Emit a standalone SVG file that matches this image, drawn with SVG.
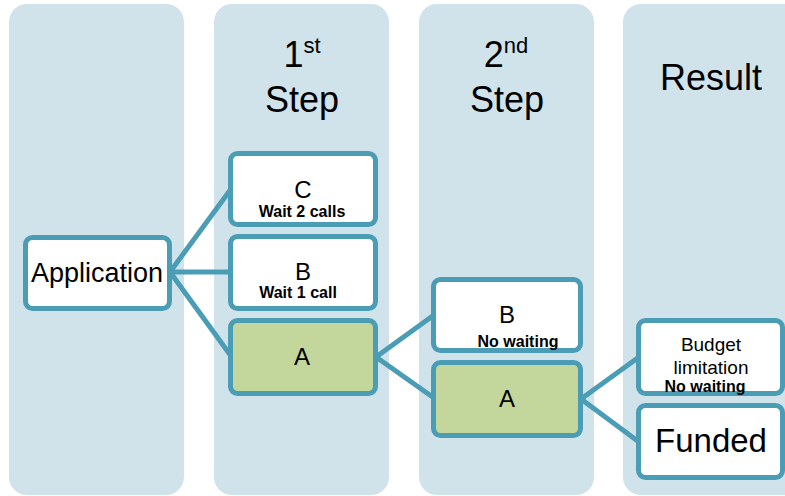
<svg xmlns="http://www.w3.org/2000/svg" width="785" height="496" viewBox="0 0 785 496">
<style>
.col{fill:#d0e3eb}
.box{fill:#ffffff;stroke:#4a9db5;stroke-width:5}
.grn{fill:#c3d69b}
.t{font-family:"Liberation Sans",Arial,sans-serif;fill:#000;text-anchor:middle}
.b{font-weight:bold;font-size:16px}
.conn{stroke:#4a9db5;stroke-width:5;fill:none}
</style>
<rect width="785" height="496" fill="#ffffff"/>
<g id="columns">
<rect class="col" x="9" y="4" width="175" height="491" rx="18"/>
<rect class="col" x="214" y="4" width="175" height="491" rx="18"/>
<rect class="col" x="419" y="4" width="175" height="491" rx="18"/>
<rect class="col" x="623" y="4" width="190" height="491" rx="18"/>
</g>
<g id="headers">
<text class="t" x="302" y="67" font-size="36">1<tspan font-size="22" dy="-14">st</tspan></text>
<text class="t" x="302" y="112" font-size="36">Step</text>
<text class="t" x="506" y="67" font-size="36">2<tspan font-size="22" dy="-14">nd</tspan></text>
<text class="t" x="507" y="112" font-size="36">Step</text>
<text class="t" x="711" y="90" font-size="36">Result</text>
</g>
<g id="connectors">
<line class="conn" x1="170" y1="272" x2="231" y2="189"/>
<line class="conn" x1="170" y1="272" x2="231" y2="272"/>
<line class="conn" x1="170" y1="272" x2="231" y2="356"/>
<line class="conn" x1="376" y1="357" x2="434" y2="315"/>
<line class="conn" x1="376" y1="357" x2="434" y2="398"/>
<line class="conn" x1="581" y1="399" x2="639" y2="357"/>
<line class="conn" x1="581" y1="399" x2="639" y2="442"/>
</g>
<g id="node-application">
<rect class="box" x="25.5" y="237.5" width="144" height="71" rx="7"/>
<text class="t" x="97" y="282" font-size="27">Application</text>
</g>
<g id="node-c">
<rect class="box" x="230.5" y="153.5" width="145" height="71" rx="7"/>
<text class="t" x="303" y="198" font-size="24">C</text>
<text class="t b" x="302" y="217">Wait 2 calls</text>
</g>
<g id="node-b1">
<rect class="box" x="230.5" y="236.5" width="145" height="72" rx="7"/>
<text class="t" x="303" y="280" font-size="24">B</text>
<text class="t b" x="298" y="298">Wait 1 call</text>
</g>
<g id="node-a1">
<rect class="box grn" x="230.5" y="320.5" width="145" height="73" rx="7"/>
<text class="t" x="302" y="365" font-size="24">A</text>
</g>
<g id="node-b2">
<rect class="box" x="433.5" y="279.5" width="147" height="71" rx="7"/>
<text class="t" x="507" y="323" font-size="24">B</text>
<text class="t b" x="518" y="347">No waiting</text>
</g>
<g id="node-a2">
<rect class="box grn" x="433.5" y="362.5" width="147" height="73" rx="7"/>
<text class="t" x="507" y="407" font-size="24">A</text>
</g>
<g id="node-budget">
<rect class="box" x="638.5" y="320.5" width="144" height="73" rx="7"/>
<text class="t" x="711" y="351" font-size="19">Budget</text>
<text class="t" x="711" y="374" font-size="19">limitation</text>
<text class="t b" x="705" y="392">No waiting</text>
</g>
<g id="node-funded">
<rect class="box" x="638.5" y="405.5" width="144" height="72" rx="7"/>
<text class="t" x="711" y="452" font-size="33">Funded</text>
</g>
</svg>
